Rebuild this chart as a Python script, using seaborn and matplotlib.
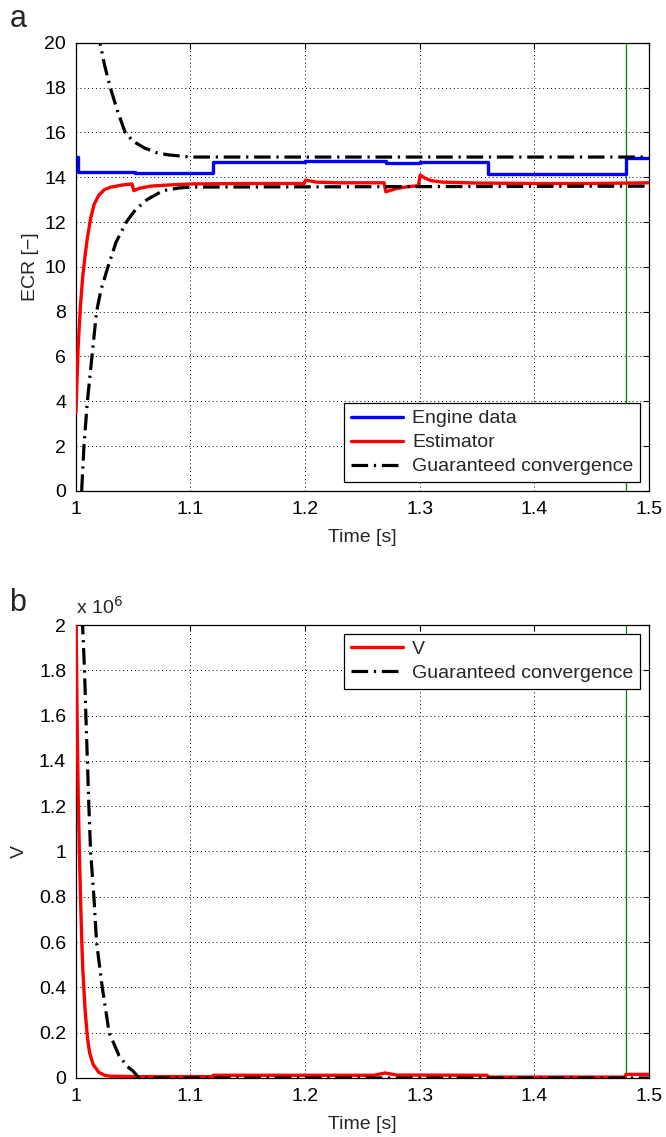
import numpy as np
import pandas as pd
import matplotlib
matplotlib.use("Agg")
import matplotlib.pyplot as plt
import seaborn as sns
from matplotlib.ticker import FuncFormatter

# ---- panel a: ECR ----
engine_t = [1.0, 1.002, 1.002, 1.0515, 1.0515, 1.12, 1.12, 1.2, 1.2, 1.271, 1.271, 1.30, 1.30,
            1.36, 1.36, 1.48, 1.48, 1.5]
engine_ecr = [14.9, 14.9, 14.25, 14.25, 14.2, 14.2, 14.68, 14.68, 14.72, 14.72, 14.65, 14.65, 14.7,
              14.7, 14.15, 14.15, 14.85, 14.85]

est_t = [1.0, 1.001, 1.002, 1.004, 1.006, 1.008, 1.010, 1.013, 1.016, 1.020, 1.025, 1.030, 1.040,
         1.049, 1.0505, 1.055, 1.065, 1.08, 1.10, 1.15, 1.199, 1.2005, 1.21, 1.23, 1.269, 1.2705,
         1.28, 1.29, 1.299, 1.3005, 1.305, 1.31, 1.32, 1.35, 1.40, 1.45, 1.5]
est_ecr = [3.5, 5.0, 6.5, 8.3, 9.6, 10.5, 11.3, 12.2, 12.8, 13.2, 13.45, 13.55, 13.65,
           13.7, 13.4, 13.5, 13.6, 13.65, 13.7, 13.72, 13.72, 13.87, 13.78, 13.75, 13.75, 13.35,
           13.5, 13.58, 13.62, 14.1, 13.95, 13.85, 13.78, 13.74, 13.72, 13.72, 13.75]

upper_t = [1.015, 1.021, 1.025, 1.030, 1.036, 1.043, 1.050, 1.060, 1.070, 1.080, 1.090, 1.10, 1.5]
upper_ecr = [23.0, 20.0, 19.0, 18.0, 17.0, 16.0, 15.6, 15.3, 15.1, 15.0, 14.95, 14.9, 14.9]

lower_t = [1.005, 1.007, 1.010, 1.014, 1.018, 1.022, 1.028, 1.035, 1.044, 1.052, 1.062, 1.076,
           1.09, 1.10, 1.5]
lower_ecr = [0.0, 2.0, 4.0, 6.0, 8.0, 9.0, 10.0, 11.1, 12.0, 12.55, 13.0, 13.4, 13.52, 13.56, 13.6]

# ---- panel b: V (in units of 1e6) ----
v_t = [1.0, 1.001, 1.002, 1.003, 1.004, 1.005, 1.006, 1.008, 1.010, 1.012, 1.015, 1.020, 1.025,
       1.030, 1.05, 1.119, 1.12, 1.26, 1.27, 1.28, 1.359, 1.36, 1.479, 1.48, 1.5]
v_val = [2.1, 1.6, 1.25, 1.0, 0.8, 0.62, 0.48, 0.3, 0.18, 0.11, 0.06, 0.025, 0.012,
         0.008, 0.006, 0.006, 0.012, 0.012, 0.022, 0.013, 0.012, 0.004, 0.004, 0.016, 0.016]

vb_t = [1.005, 1.0058, 1.0075, 1.0087, 1.010, 1.0113, 1.0128, 1.0157, 1.018, 1.023, 1.029,
        1.0375, 1.045, 1.05, 1.055, 1.5]
vb_val = [2.3, 2.0, 1.8, 1.6, 1.4, 1.2, 1.0, 0.8, 0.6, 0.4, 0.2, 0.1, 0.05, 0.03, 0.0, 0.0]

marker_t = 1.48
x_ticks = [1.0, 1.1, 1.2, 1.3, 1.4, 1.5]

sns.set_style("white")
plt.rcParams["font.family"] = ["Liberation Sans", "DejaVu Sans"]
plt.rcParams["font.size"] = 13.5

fig = plt.figure(figsize=(6.66, 11.37), dpi=100)
ax1 = fig.add_axes([0.114, 0.5682, 0.860, 0.3942])
ax2 = fig.add_axes([0.114, 0.0519, 0.860, 0.3984])

dashdot = (0, (5.2, 1.8, 0.7, 1.8))

sns.lineplot(x=engine_t, y=engine_ecr, ax=ax1, color="#0000ff", lw=2.4, sort=False,
             estimator=None, label="Engine data", zorder=3)
sns.lineplot(x=est_t, y=est_ecr, ax=ax1, color="#ff0000", lw=2.4, sort=False,
             estimator=None, label="Estimator", zorder=3)
sns.lineplot(x=upper_t, y=upper_ecr, ax=ax1, color="black", lw=2.3, sort=False,
             estimator=None, label="Guaranteed convergence", zorder=4)
sns.lineplot(x=lower_t, y=lower_ecr, ax=ax1, color="black", lw=2.3, sort=False,
             estimator=None, zorder=4)
for ln in ax1.lines[2:]:
    ln.set_linestyle(dashdot)
ax1.axvline(marker_t, color="#008000", lw=0.9, zorder=2)
ax1.set_ylim(0, 20)
ax1.set_yticks(range(0, 21, 2))
ax1.set_ylabel("ECR [−]", fontsize=14, labelpad=4)

sns.lineplot(x=v_t, y=v_val, ax=ax2, color="#ff0000", lw=2.4, sort=False,
             estimator=None, label="V", zorder=3)
sns.lineplot(x=vb_t, y=vb_val, ax=ax2, color="black", lw=2.3, sort=False,
             estimator=None, label="Guaranteed convergence", zorder=4)
ax2.lines[1].set_linestyle(dashdot)
ax2.axvline(marker_t, color="#008000", lw=0.9, zorder=2)
ax2.set_ylim(0, 2)
ax2.set_yticks(np.arange(0, 2.01, 0.2))
ax2.set_ylabel("V", fontsize=14, labelpad=8)
ax2.text(0.0, 1.015, r"x 10$^6$", transform=ax2.transAxes, fontsize=14,
         ha="left", va="bottom")

fmt = FuncFormatter(lambda v, _: f"{round(v, 2):g}")
for ax in (ax1, ax2):
    ax.set_xlim(1.0, 1.5)
    ax.set_xticks(x_ticks)
    ax.xaxis.set_major_formatter(fmt)
    ax.yaxis.set_major_formatter(fmt)
    ax.set_xlabel("Time [s]", fontsize=14, labelpad=8)
    ax.grid(True, color="black", linestyle=(0, (1, 3)), lw=0.7)
    ax.tick_params(direction="in", top=True, right=True, length=4, width=0.8,
                   labelsize=14, colors="black", pad=7)
    for sp in ax.spines.values():
        sp.set_color("black")
        sp.set_linewidth(0.9)

leg_kw = dict(fontsize=14, handlelength=2.7, frameon=True, fancybox=False, framealpha=1,
              edgecolor="black", borderaxespad=0.45, labelspacing=0.33, borderpad=0.35,
              handletextpad=0.45)
leg1 = ax1.legend(loc="lower right", **leg_kw)
leg2 = ax2.legend(loc="upper right", **leg_kw)
for leg in (leg1, leg2):
    leg.get_frame().set_linewidth(0.9)
for h in leg1.get_lines()[2:]:
    h.set_linestyle(dashdot)
leg2.get_lines()[1].set_linestyle(dashdot)

fig.text(0.014, 0.983, "a", fontsize=22, va="center", ha="left")
fig.text(0.014, 0.470, "b", fontsize=22, va="center", ha="left")

fig.savefig("out.png", dpi=100)
